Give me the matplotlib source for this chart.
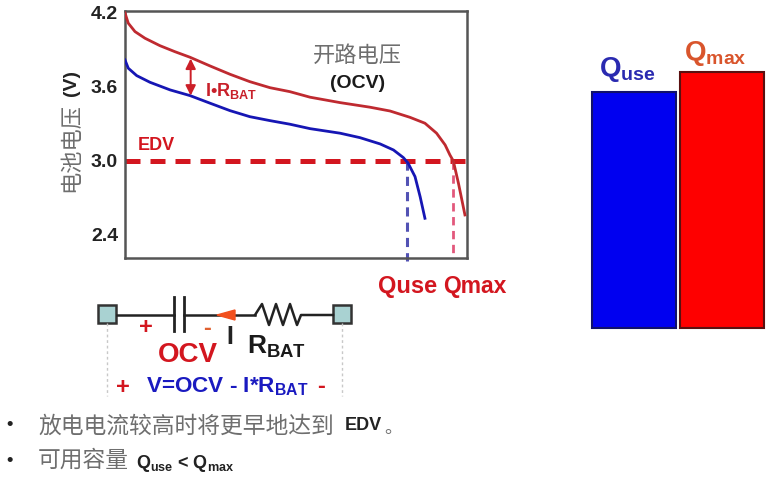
import matplotlib
matplotlib.use("Agg")
from matplotlib import pyplot as plt
from matplotlib.patches import Rectangle, Polygon

plt.rcParams['font.family'] = ['Liberation Sans', 'Noto Sans CJK SC', 'DejaVu Sans']
plt.rcParams['mathtext.fontset'] = 'custom'
plt.rcParams['mathtext.rm'] = 'Liberation Sans:bold'
plt.rcParams['mathtext.default'] = 'rm'

# discharge curves, x is % of axis width
ocv_x = [0, 0.96, 2.92, 5.85, 10.2, 14.6, 19.0, 24.9, 30.7, 36.5, 42.4, 48.2, 54.1, 62.9, 71.6, 77.5,
         83.3, 87.7, 91.1, 93.6, 95.0, 96.0, 97.5, 99.4]
ocv_y = [4.20, 4.117, 4.049, 3.995, 3.935, 3.886, 3.841, 3.770, 3.703, 3.643, 3.594, 3.562, 3.517, 3.473, 3.436, 3.405,
         3.354, 3.306, 3.225, 3.130, 3.049, 3.0, 2.819, 2.562]
load_x = [0, 0.96, 3.42, 7.3, 13.2, 19.0, 24.9, 30.7, 36.5, 42.4, 48.2, 54.1, 62.9, 68.7, 74.6,
          78.5, 81.4, 82.8, 84.8, 86.3, 87.7]
load_y = [3.819, 3.752, 3.692, 3.638, 3.576, 3.530, 3.468, 3.408, 3.359, 3.327, 3.298, 3.262, 3.225, 3.189, 3.138,
          3.089, 3.027, 2.981, 2.873, 2.710, 2.535]
edv = 3.0
q_use = 82.5
q_max = 95.8
yticks = [2.4, 3.0, 3.6, 4.2]

bar_names = ["Quse", "Qmax"]
bar_values = [92, 100]

W, H = 778, 482
RED = "#d3161f"
CURVE_RED = "#bf2a30"
BLUE = "#1616b4"
GREY = "#6e6e6e"


def box(left, top, right, bottom):
    return [left / W, 1 - bottom / H, (right - left) / W, (bottom - top) / H]


fig = plt.figure(figsize=(W / 100, H / 100), dpi=100)

# left chart
ax = fig.add_axes(box(125, 11, 467, 258))
ax.plot(ocv_x, ocv_y, color=CURVE_RED, lw=2.0, solid_joinstyle="round", zorder=3)
ax.plot(load_x, load_y, color=BLUE, lw=2.0, solid_joinstyle="round", zorder=3)
ax.axhline(edv, color=RED, lw=3.6, ls=(0, (3, 2)), zorder=2)
ax.plot([q_use, q_use], [edv, 2.19], color="#5252b4", lw=2.2, ls=(0, (3, 2)), clip_on=False)
ax.plot([q_max, q_max], [edv, 2.213], color="#e2587c", lw=2.0, ls=(0, (3, 2)), clip_on=False)
ax.annotate("", xy=(19.2, 3.53), xytext=(19.2, 3.83),
            arrowprops=dict(arrowstyle="<|-|>", color="#cc1f28", lw=1.4, mutation_scale=15, shrinkA=0, shrinkB=0))
ax.set_xlim(0, 100)
ax.set_ylim(2.213, 4.216)
ax.set_xticks([])
ax.set_yticks(yticks)
ax.set_yticklabels([f"{t:.1f}" for t in yticks], fontsize=14, fontweight="bold", color="#222222")
ax.tick_params(axis="y", length=0, pad=5)
for s in ax.spines.values():
    s.set_color("#555555")
    s.set_linewidth(1.8)

# right bars
bx = fig.add_axes(box(590, 72, 766, 328))
bx.bar([0, 1], bar_values, width=0.955, color=["#0000f0", "#fe0000"],
       edgecolor=["#10106a", "#5a1010"], linewidth=1.5)
bx.set_xlim(-0.5, 1.5)
bx.set_ylim(0, 100)
bx.axis("off")
for b in bx.patches:
    b.set_clip_on(False)

# overlay in pixel coordinates for the text and circuit
ov = fig.add_axes([0, 0, 1, 1], facecolor="none")
ov.set_xlim(0, W)
ov.set_ylim(H, 0)
ov.axis("off")


def label(x, y, s, size, color="black", weight="bold", ha="center", **kw):
    ov.text(x, y, s, fontsize=size, color=color, fontweight=weight, ha=ha, va="center", **kw)


label(72, 147, "电池电压", 16, GREY, "normal", rotation=90)
label(72, 83, "(V)", 14, "#222222", rotation=90)
label(156, 145, "EDV", 13, RED)
label(357, 56, "开路电压", 16, GREY, "normal")
label(358, 84, "(OCV)", 14, "#1a1a1a")
label(205, 91, "I•R$_{BAT}$", 13, "#c8202a", ha="left")
label(408, 287, "Quse", 17, RED)
label(475, 287, "Qmax", 16.5, RED)
label(627, 70, "Q$_{use}$", 20, "#2a2ab0")
label(715, 53, "Q$_{max}$", 20, "#d9552c")

# circuit
ov.plot([117, 174], [315, 315], color="#222222", lw=1.8)
ov.plot([184, 255], [315, 315], color="#222222", lw=1.8)
ov.plot([174, 174], [297, 331], color="#222222", lw=2)
ov.plot([184, 184], [297, 331], color="#222222", lw=2)
ov.plot([255, 262, 269, 276, 283, 290, 297, 301, 333],
        [315, 304, 325, 304, 325, 304, 325, 315, 315], color="#222222", lw=1.8)
for left in (98, 333):
    ov.add_patch(Rectangle((left, 305), 18, 18, facecolor="#a9d2d2", edgecolor="#333333", lw=1.8))
ov.add_patch(Polygon([[217, 315], [235, 310], [235, 320]], color="#f2501e", zorder=4))
ov.plot([107, 107], [323, 396], color="#c8c8c8", lw=1, ls=(0, (2, 2)))
ov.plot([342, 342], [323, 396], color="#c8c8c8", lw=1, ls=(0, (2, 2)))
label(146, 328, "+", 17, RED)
label(207, 329, "-", 17, "#e06030")
label(188, 355, "OCV", 20, RED)
label(230, 337, "I", 18, "#222222")
label(247, 347, "R$_{BAT}$", 19, "#1a1a1a", ha="left")
label(123, 388, "+", 17, RED)
label(146, 387, "V=OCV - I*R$_{BAT}$", 16.2, "#1a1ac0", ha="left")
label(321, 386, "-", 17, RED)

# bullets
label(10, 425, "•", 13, "#222222")
label(10, 461, "•", 13, "#222222")
label(38, 426, "放电电流较高时将更早地达到", 16.4, GREY, "normal", ha="left")
label(345, 426, "EDV", 13, "#222222", ha="left")
label(384, 428, "。", 13, GREY, "normal", ha="left")
label(38, 460, "可用容量", 16.4, GREY, "normal", ha="left")
label(136, 464, "Q$_{use}$ < Q$_{max}$", 13, "#222222", ha="left")

fig.savefig("out.png", dpi=100)
